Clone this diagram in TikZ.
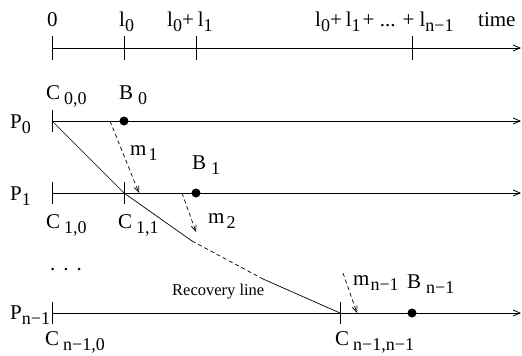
\documentclass[tikz,border=0pt]{standalone}
\usepackage{fontspec}
\setmainfont{Liberation Serif}
\newfontfamily\figfont{Liberation Serif}
\usetikzlibrary{arrows.meta}

\newcommand{\sub}[1]{\raisebox{-5.5pt}{\fontsize{18}{18}\selectfont #1}}

\tikzset{
  lbl/.style={draw=none, inner sep=0pt, anchor=base west, font=\figfont\fontsize{21}{24}\selectfont},
  timeline/.style={line width=0.8pt, -{Straight Barb[length=7pt,width=6pt]}},
  tickmark/.style={line width=0.8pt},
  msgarrow/.style={line width=0.7pt, dash pattern=on 4pt off 3pt, -{Straight Barb[length=6pt,width=5pt]}},
  ckptdot/.style={circle, fill=black, draw=none, inner sep=0pt, minimum size=9pt},
}

\begin{document}
\begin{tikzpicture}[x=1pt, y=-1pt]
        \useasboundingbox (0,0) rectangle (522,356);

        % Time axis
        \coordinate (t0) at (52,48);
        \coordinate (tend) at (521,48);
        \draw[timeline] (t0) -- (tend);
        \foreach \x in {52,124,196,412} {
            \draw[tickmark] (\x,36) -- (\x,60);
        }
        \node[lbl] (lzero) at (47,26) {0};
        \node[lbl] (lone) at (119,26) {l\sub{0}};
        \node[lbl] (ltwo) at (167,26) {l\sub{0}+\hspace{4pt}l\sub{1}};
        \node[lbl] (lall) at (315,26) {l\sub{0}+\hspace{4pt}l\sub{1}\hspace{2pt}+ ... + l\sub{n−1}};
        \node[lbl] (ltime) at (478,26) {time};

        % Process lines
        \foreach \y/\name in {121/p0, 193/p1, 313/pn} {
            \coordinate (\name s) at (52,\y);
            \coordinate (\name e) at (521,\y);
            \draw[timeline] (\name s) -- (\name e);
            \draw[tickmark] (52,\y-11) -- (52,\y+11);
        }
        \node[lbl] (lp0) at (10,128) {P\sub{0}};
        \node[lbl] (lp1) at (10,200) {P\sub{1}};
        \node[lbl] (lpn) at (10,319) {P\sub{n−1}};
        \node[lbl] (ldots) at (50,270) {.\hspace{8pt}.\hspace{8pt}.};

        % Checkpoints
        \draw[tickmark] (124,182) -- (124,204);
        \draw[tickmark] (340,302) -- (340,324);
        \node[lbl] (lc00) at (46,99) {C\hspace{4pt}\sub{0,0}};
        \node[lbl] (lc10) at (46,228) {C\hspace{4pt}\sub{1,0}};
        \node[lbl] (lc11) at (118,228) {C\hspace{4pt}\sub{1,1}};
        \node[lbl] (lcn0) at (45,345) {C\hspace{4pt}\sub{n−1,0}};
        \node[lbl] (lcnn) at (335,345) {C\hspace{4pt}\sub{n−1,n−1}};

        % Basic checkpoints
        \node[ckptdot] (b0) at (124,121) {};
        \node[ckptdot] (b1) at (196,193) {};
        \node[ckptdot] (bn) at (412,313) {};
        \node[lbl] (lb0) at (119,99) {B\hspace{5pt}\sub{0}};
        \node[lbl] (lb1) at (192,169) {B\hspace{5pt}\sub{1}};
        \node[lbl] (lbn) at (407,288) {B\hspace{5pt}\sub{n−1}};

        % Messages
        \coordinate (m1s) at (110,121);
        \coordinate (m1e) at (139,193);
        \coordinate (m2s) at (182,193);
        \coordinate (m2e) at (196,232);
        \coordinate (mns) at (343,273);
        \coordinate (mne) at (357,313);
        \draw[msgarrow] (m1s) -- (m1e);
        \draw[msgarrow] (m2s) -- (m2e);
        \draw[msgarrow] (mns) -- (mne);
        \node[lbl] (lm1) at (130,155) {m\hspace{2pt}\sub{1}};
        \node[lbl] (lm2) at (208,223) {m\hspace{2pt}\sub{2}};
        \node[lbl] (lmn) at (353,285) {m\hspace{1pt}\sub{n−1}};

        % Recovery line
        \coordinate (c00) at (52,121);
        \coordinate (c11) at (124,193);
        \coordinate (r1) at (192,241);
        \coordinate (r2) at (263,279);
        \coordinate (cnn) at (340,313);
        \draw[line width=0.7pt] (c00) -- (c11) -- (r1);
        \draw[line width=0.7pt, dash pattern=on 4pt off 3pt] (r1) -- (r2);
        \draw[line width=0.7pt] (r2) -- (cnn);
        \node[lbl, font=\figfont\fontsize{16.5}{19}\selectfont] (lrec) at (172,295) {Recovery line};
\end{tikzpicture}
\end{document}
